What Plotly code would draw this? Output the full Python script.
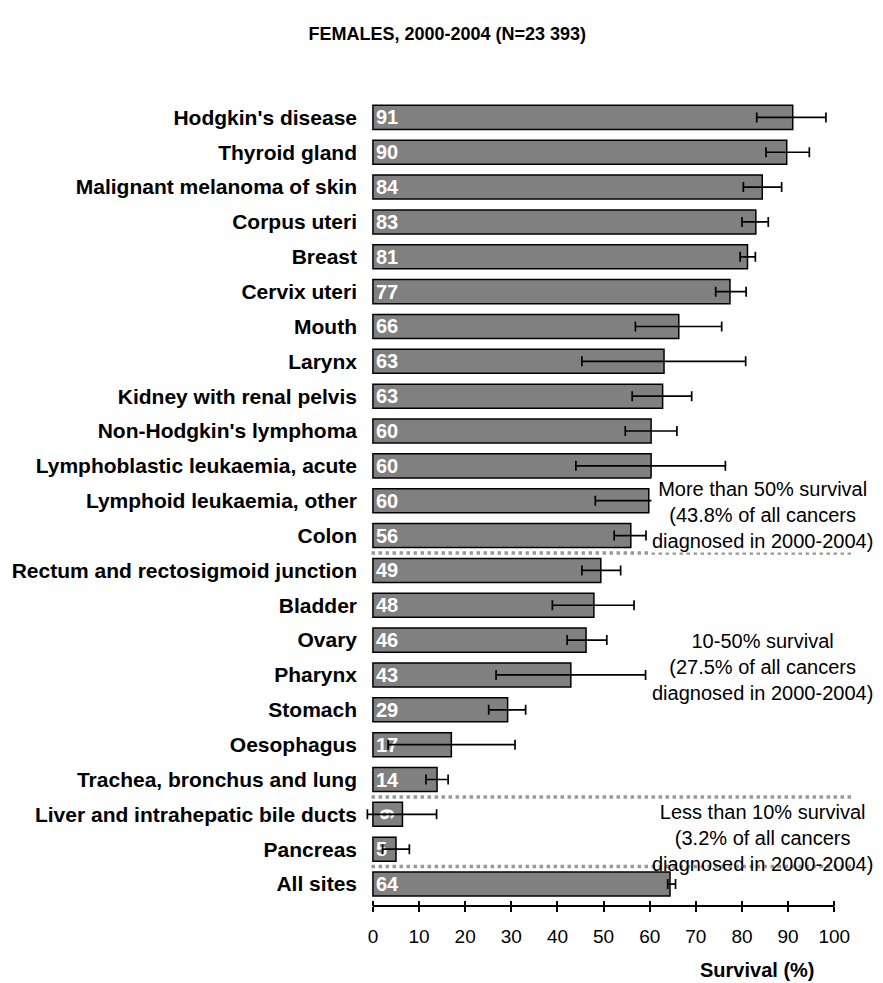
import plotly.graph_objects as go

categories = ["Hodgkin's disease", "Thyroid gland", "Malignant melanoma of skin", "Corpus uteri",
              "Breast", "Cervix uteri", "Mouth", "Larynx", "Kidney with renal pelvis",
              "Non-Hodgkin's lymphoma", "Lymphoblastic leukaemia, acute", "Lymphoid leukaemia, other",
              "Colon", "Rectum and rectosigmoid junction", "Bladder", "Ovary", "Pharynx", "Stomach",
              "Oesophagus", "Trachea, bronchus and lung", "Liver and intrahepatic bile ducts",
              "Pancreas", "All sites"]
survival = [91.0, 89.7, 84.4, 83.0, 81.2, 77.4, 66.3, 63.1, 62.8, 60.3, 60.3, 59.8, 55.9,
            49.4, 47.9, 46.2, 42.9, 29.2, 17.0, 13.9, 6.4, 5.0, 64.4]
bar_labels = ["91", "90", "84", "83", "81", "77", "66", "63", "63", "60", "60", "60", "56",
              "49", "48", "46", "43", "29", "17", "14", "6", "5", "64"]
ci_lower = [83.2, 85.2, 80.3, 80.0, 79.6, 74.3, 56.9, 45.3, 56.2, 54.7, 44.0, 48.2, 52.3,
            45.3, 38.9, 42.1, 26.7, 25.1, 3.3, 11.5, -1.2, 2.1, 63.9]
ci_upper = [98.2, 94.6, 88.6, 85.7, 82.9, 80.9, 75.6, 80.8, 69.1, 65.9, 76.4, 71.4, 59.2,
            53.7, 56.6, 50.7, 59.1, 33.1, 30.8, 16.3, 13.8, 7.9, 65.6]
x_ticks = [0, 10, 20, 30, 40, 50, 60, 70, 80, 90, 100]
group_breaks = [12.5, 19.5, 21.5]
group_texts = [
    "More than 50% survival<br>(43.8% of all cancers<br>diagnosed in 2000-2004)",
    "10-50% survival<br>(27.5% of all cancers<br>diagnosed in 2000-2004)",
    "Less than 10% survival<br>(3.2% of all cancers<br>diagnosed in 2000-2004)",
]
group_text_y = [11.42, 15.78, 20.68]
group_text_bg = ["white", "rgba(0,0,0,0)", "rgba(0,0,0,0)"]

FONT = "Liberation Sans, Arial, sans-serif"
pos = list(range(len(categories)))

fig = go.Figure()
fig.add_trace(go.Bar(
    x=survival, y=pos, orientation="h", width=0.69,
    marker=dict(color="#808080", line=dict(color="black", width=1.5)),
    text=bar_labels, textposition="inside", insidetextanchor="start",
    constraintext="none",
    textfont=dict(family=FONT, size=20, color="white", weight="bold"),
    error_x=dict(type="data", symmetric=False,
                 array=[u - v for u, v in zip(ci_upper, survival)],
                 arrayminus=[v - l for v, l in zip(survival, ci_lower)],
                 color="black", thickness=1.7, width=5),
    hoverinfo="skip",
))
# invisible trace on the overlay axis so its inside ticks are drawn
fig.add_trace(go.Scatter(x=[0, 100], y=[0, 0], xaxis="x2", mode="none",
                         hoverinfo="skip", showlegend=False))

shapes = []
for yb in group_breaks:
    shapes.append(dict(type="line", xref="x", yref="y", x0=-0.3, x1=104, y0=yb, y1=yb,
                       line=dict(color="#999999", width=3.5, dash="dot"), layer="above"))
shapes.append(dict(type="line", xref="x", yref="paper", x0=0, x1=100, y0=0, y1=0,
                   line=dict(color="black", width=2)))

annotations = []
for t, yy, bg in zip(group_texts, group_text_y, group_text_bg):
    annotations.append(dict(text=t, x=84.4, y=yy, xref="x", yref="y", showarrow=False,
                            xanchor="center", yanchor="middle", align="center",
                            bgcolor=bg, borderpad=0,
                            font=dict(family=FONT, size=20, color="black")))
annotations.append(dict(text="<b>Survival (%)</b>", x=0.80, y=-0.079, xref="paper", yref="paper",
                        showarrow=False, xanchor="center", yanchor="middle",
                        font=dict(family=FONT, size=20, color="black")))

fig.update_layout(
    width=875, height=975,
    margin=dict(l=358, r=28, t=85, b=77, autoexpand=False),
    paper_bgcolor="white", plot_bgcolor="white",
    title=dict(text="<b>FEMALES, 2000-2004 (N=23 393)</b>", x=0.502, y=0.974,
               xanchor="center", yanchor="middle",
               font=dict(family=FONT, size=18, color="black")),
    showlegend=False,
    shapes=shapes,
    annotations=annotations,
    bargap=0.3,
    xaxis2=dict(overlaying="x", anchor="y", side="bottom", range=[-1.5, 104.5],
                tickvals=x_ticks, ticks="inside", ticklen=5, tickwidth=1.5,
                tickcolor="black", showticklabels=False, showgrid=False,
                zeroline=False, showline=False, automargin=False),
    xaxis=dict(range=[-1.5, 104.5], tickvals=x_ticks, ticks="outside", ticklen=5,
               tickwidth=1.5, tickcolor="black", showline=False, showgrid=False,
               zeroline=False, ticklabelstandoff=8, automargin=False,
               tickfont=dict(family=FONT, size=19, color="black")),
    yaxis=dict(range=[22.63, -0.7], tickvals=pos, ticktext=categories, showgrid=False,
               zeroline=False, showline=False, ticks="", ticklabelstandoff=8,
               automargin=False,
               tickfont=dict(family=FONT, size=21, color="black", weight="bold")),
)

fig.write_html("out.html")
